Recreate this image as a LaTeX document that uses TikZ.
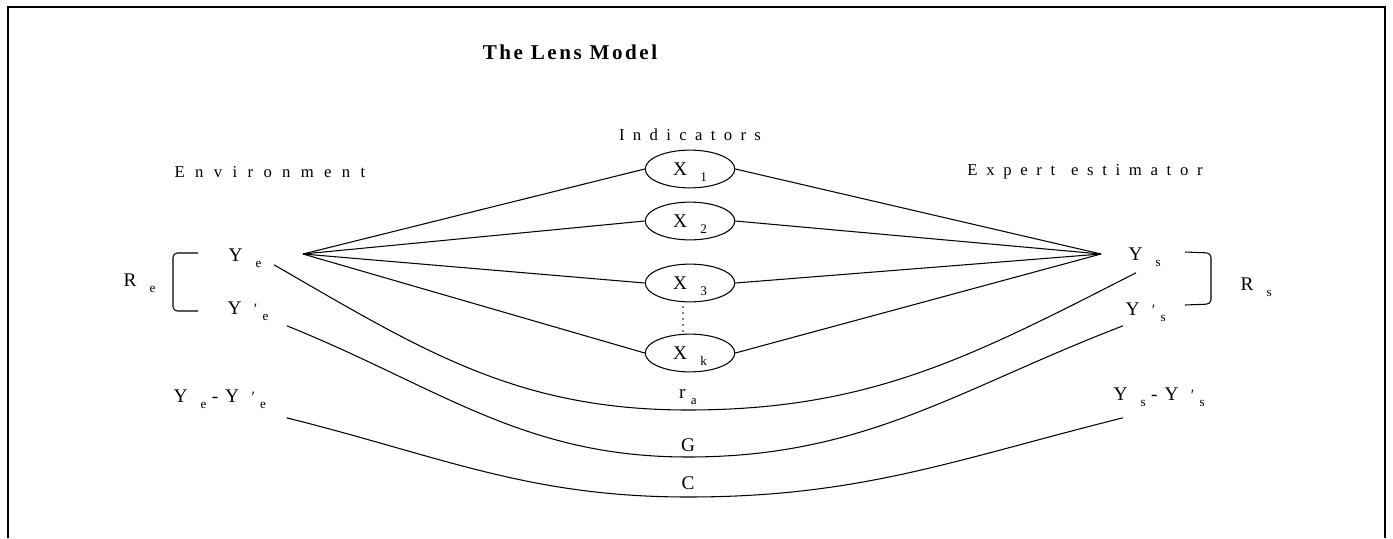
\documentclass[tikz,border=0pt]{standalone}
\usepackage{fontspec}
\setmainfont{Liberation Serif}
\newfontfamily\spacedfont[LetterSpace=50]{Liberation Serif}
\newfontfamily\titlefont[LetterSpace=12]{Liberation Serif}
\usetikzlibrary{shapes.geometric, positioning}

\newcommand{\subfont}{\fontsize{7.5}{8}\selectfont}
\newcommand{\lsub}[2][7.5pt]{\hspace{#1}\raisebox{-3.5pt}{\subfont #2}}
\newcommand{\lprsub}[1]{\hspace{7pt}\raisebox{-0.5pt}{\fontsize{9}{9}\selectfont ′}\hspace{3pt}\raisebox{-3.5pt}{\subfont #1}}

\begin{document}
\begin{tikzpicture}[x=0.02cm, y=0.02cm, line width=0.6pt, lbl/.style={font=\fontsize{11}{13}\selectfont, inner sep=0pt, anchor=base west}, head/.style={font=\spacedfont\fontsize{9.5}{11}\selectfont}, ind/.style={draw, ellipse, minimum width=51pt, minimum height=21.5pt, inner sep=0pt, text depth=0pt, font=\fontsize{11}{13}\selectfont}, clbl/.style={font=\fontsize{11}{13}\selectfont, inner sep=0pt}]

\useasboundingbox (0,0) rectangle (1393,-538);
\draw (8,-538) -- (8,-7) -- (1385,-7) -- (1385,-538);

\node[font=\titlefont\bfseries\fontsize{12}{14}\selectfont] (title) at (570,-52) {The Lens Model};
\node[head] (indic) at (690,-135) {Indicators};
\node[head] (env) at (270,-172) {\addfontfeature{LetterSpace=62}Environment};
\node[head] (expert) at (1085,-172) {\addfontfeature{LetterSpace=52}Expert\hspace{9pt}estimator};

% indicators
\node[ind] (x1) at (690,-169) {X\lsub{1}};
\node[ind] (x2) at (690,-221) {X\lsub{2}};
\node[ind] (x3) at (690,-283) {X\lsub{3}};
\node[ind] (xk) at (690,-353) {X\lsub{k}};
\foreach \d in {0,...,4} \fill (683,-307-6*\d) circle (0.9);

% judgments and criterion
\node[lbl] (ye) at (228,-261) {Y\lsub{e}};
\node[lbl] (ype) at (227,-314) {Y\lprsub{e}};
\node[lbl] (dye) at (173,-402) {Y\lsub{e}\hspace{3pt}-\hspace{4pt}Y\lprsub{e}};
\node[lbl] (re) at (123,-286) {R\lsub{e}};
\node[lbl] (ys) at (1128,-260) {Y\lsub{s}};
\node[lbl] (yps) at (1125,-315) {Y\lprsub{s}};
\node[lbl] (dys) at (1113,-400) {Y\lsub{s}\hspace{3pt}-\hspace{4pt}Y\lprsub{s}};
\node[lbl] (rs) at (1240,-290) {R\lsub{s}};
\draw[rounded corners=2.5pt] (198,-253) -- (173,-253) -- (173,-311) -- (198,-311);
\draw[rounded corners=2.5pt] (1185,-252) -- (1211,-253) -- (1211,-304) -- (1185,-305);

% lens
\coordinate (lhub) at (303,-254);
\coordinate (rhub) at (1101,-254);
\foreach \n in {x1,x2,x3,xk} {\draw (lhub) -- (\n.west); \draw (\n.east) -- (rhub);}

% achievement curves
\coordinate (rabot) at (688,-410);
\coordinate (gbot) at (688,-457);
\coordinate (cbot) at (688,-497);
\draw ([shift={(12,3)}]ye.south east) to[out=-30,in=180] (rabot) to[out=0,in=-153] ([shift={(8,-6)}]ys.south west);
\draw ([shift={(18,-5)}]ype.south east) to[out=-22,in=180] (gbot) to[out=0,in=-159] ([shift={(-2,-4)}]yps.south west);
\draw ([shift={(20,-9)}]dye.south east) to[out=-14,in=180] (cbot) to[out=0,in=-166] ([shift={(10,-11)}]dys.south west);
\node[clbl, above=2.7pt of rabot] (ra) {r\lsub[3pt]{a}};
\node[clbl, above=2.5pt of gbot] (g) {G};
\node[clbl, above=3.7pt of cbot] (c) {C};

\end{tikzpicture}
\end{document}
